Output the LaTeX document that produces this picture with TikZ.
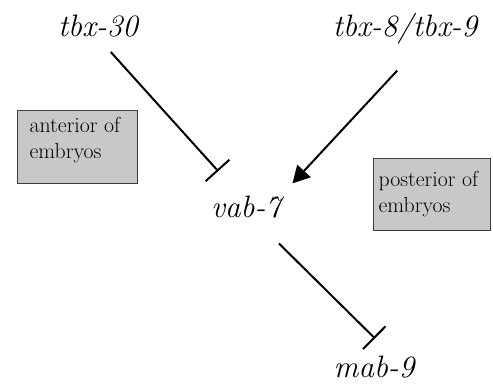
\documentclass[tikz,border=0pt]{standalone}
\usepackage{fontspec}
\usetikzlibrary{arrows.meta}
\definecolor{boxfill}{RGB}{200,200,200}
\definecolor{boxline}{RGB}{60,60,60}
\begin{document}
\begin{tikzpicture}[x=1pt,y=1pt,
  gene/.style={inner sep=0pt, anchor=base, font=\fontsize{31}{36}\selectfont\itshape},
  graybox/.style={draw=boxline, line width=1.2pt, fill=boxfill, inner sep=0pt, anchor=north west,
    font=\fontsize{21.8}{26}\selectfont},
  inhibit/.style={line width=2pt, -{Bar[width=32pt,line width=2pt]}},
  activate/.style={line width=2pt, -{Triangle[length=17pt,width=18pt]}}]
\useasboundingbox (0,0) rectangle (493,386);
\node[gene] (t30) at (98,349) {tbx-30};
\node[gene] (t89) at (405,349) {tbx-8/tbx-9};
\node[gene] (vab) at (246,168) {vab-7};
\node[gene] (mab) at (374,9) {mab-9};
\node[graybox] (ant) at (17,276) {\parbox[c][73pt][t]{120pt}{\vspace{7pt}\hspace*{12pt}anterior of\\\hspace*{12pt}embryos}};
\node[graybox] (post) at (373,228) {\parbox[c][72pt][t]{117pt}{\vspace{12.5pt}\hspace*{5pt}posterior of\\\hspace*{5pt}embryos}};
\draw[inhibit, shorten <=19pt, shorten >=49pt] (t30.south) -- ([xshift=5pt]vab.center);
\draw[activate, shorten <=35pt, shorten >=33pt] ([xshift=16pt]t89.south) -- ([xshift=24pt]vab.center);
\draw[inhibit, shorten <=35pt, shorten >=24pt] ([xshift=8pt]vab.south) -- ([xshift=18pt]mab.north);
\end{tikzpicture}
\end{document}
